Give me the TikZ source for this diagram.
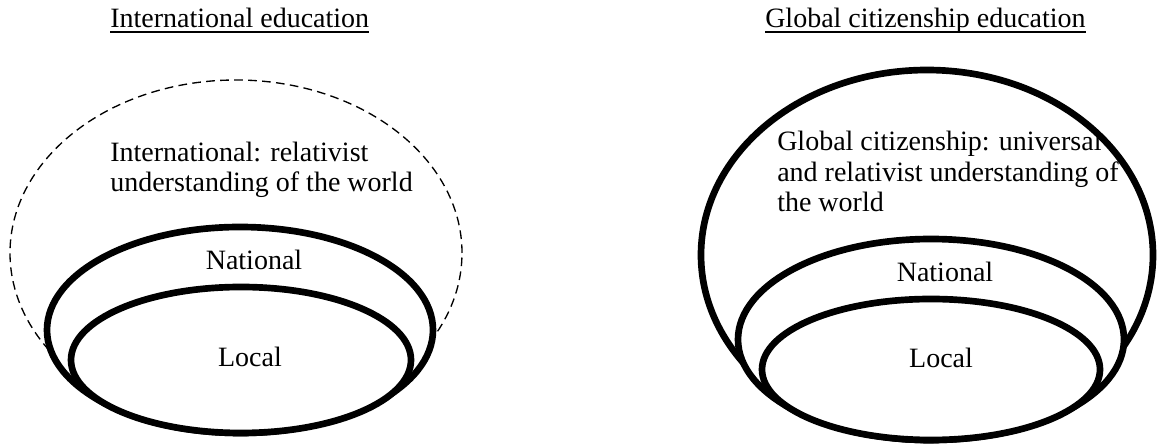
\documentclass[tikz,border=0pt]{standalone}
\usepackage{fontspec}
\setmainfont{Liberation Serif}
\usepackage{tikz}
\usetikzlibrary{positioning}
\newcommand{\titleul}[1]{\setbox0\hbox{#1}\rlap{\rule[-3.6pt]{\wd0}{1.1pt}}\box0}

\begin{document}
\begin{tikzpicture}[
  x=0.75pt, y=0.75pt,
  ring/.style={line width=5pt, fill=white},
  outerdash/.style={line width=1pt, dash pattern=on 6.5pt off 4pt},
  txt/.style={inner sep=0pt, font=\fontsize{21}{23}\selectfont},
  para/.style={txt, align=left, anchor=base west}
]
  \useasboundingbox (0,0) rectangle (1159,445);

  % Centres
  \coordinate (intC) at (236,192);
  \coordinate (natLC) at (240,115);
  \coordinate (locLC) at (241,85);
  \coordinate (gceC) at (927,190);
  \coordinate (natRC) at (931,105.5);
  \coordinate (locRC) at (931,75.5);

  % International education
  \draw[outerdash] (intC) ellipse [x radius=226, y radius=173];
  \draw[ring] (natLC) ellipse [x radius=193, y radius=103];
  \draw[ring] (locLC) ellipse [x radius=170, y radius=73];

  % Global citizenship education
  \draw[ring] (gceC) ellipse [x radius=226, y radius=185];
  \draw[ring] (natRC) ellipse [x radius=193, y radius=100.5];
  \draw[ring] (locRC) ellipse [x radius=169, y radius=70.5];

  % Nodes
  \node[txt, anchor=base west] (titleL) at (110,417) {\titleul{International education}};
  \node[para] (intText) at (110,253) {International: relativist\\understanding of the world};
  \node[txt, anchor=base] (natL) at (254,175) {National};
  \node[txt, anchor=base] (locL) at (250,78) {Local};

  \node[txt, anchor=base west] (titleR) at (765,417) {\titleul{Global citizenship education}};
  \node[para] (gceText) at (777,233) {Global citizenship: universal\\and relativist understanding of\\the world};
  \node[txt, anchor=base] (natR) at (945,163) {National};
  \node[txt, anchor=base] (locR) at (941,77) {Local};
\end{tikzpicture}
\end{document}
